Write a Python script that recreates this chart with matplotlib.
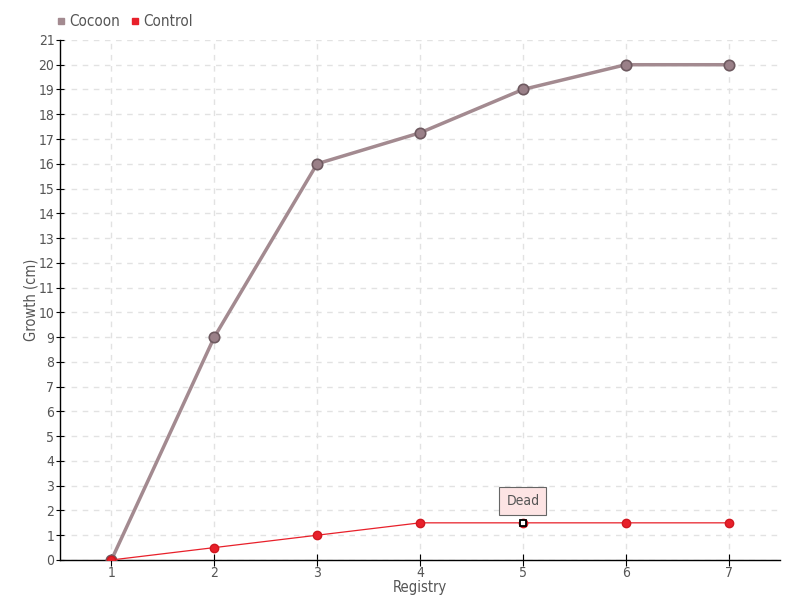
import matplotlib
matplotlib.use("Agg")
import matplotlib.pyplot as plt
from matplotlib.lines import Line2D

# fuente estrecha
plt.rcParams['font.family'] = ['DejaVu Sans']
plt.rcParams['font.stretch'] = 'condensed'

registry = [1, 2, 3, 4, 5, 6, 7]
cocoon = [0, 9, 16, 17.25, 19, 20, 20]
control = [0, 0.5, 1, 1.5, 1.5, 1.5, 1.5]
series_names = ["Cocoon", "Control"]
note_text = "Dead"
note_idx = 4

col_cocoon = "#a38a90"
col_control = "#e8202a"
txt = "#555555"

fig = plt.figure(figsize=(8, 6), dpi=100)
ax = fig.add_axes((0.075, 0.0667, 0.9, 0.8667))

ax.plot(registry, cocoon, color=col_cocoon, lw=2.5, marker='o', ms=7.5,
        mfc="#9a8088", mec="#6e5a60", mew=1.2, zorder=3)
ax.plot(registry, control, color=col_control, lw=0.9, marker='o', ms=6,
        mfc=col_control, mec="#d01820", zorder=4)
# punto marcado
ax.plot([registry[note_idx]], [control[note_idx]], marker='s', ms=4.5,
        mfc='white', mec='black', mew=1.3, ls='none', zorder=5)
ax.annotate(note_text, xy=(registry[note_idx], control[note_idx]),
            xytext=(0, 16), textcoords='offset points', ha='center',
            va='center', fontsize=10, color=txt,
            bbox=dict(boxstyle='square,pad=0.5', fc='#fde4e4',
                      ec='#666666', lw=0.8),
            zorder=6)

ax.set_xlim(0.5, 7.5)
ax.set_ylim(0, 21)
ax.set_xticks(registry)
ax.set_yticks(range(0, 22))
ax.grid(True, color='#e2e2e2', ls=(0, (4, 4)), lw=1)
ax.set_axisbelow(True)
for s in ['top', 'right']:
    ax.spines[s].set_visible(False)
ax.spines['left'].set_linewidth(1)
ax.spines['bottom'].set_linewidth(1)
ax.tick_params(axis='y', direction='inout', length=6, labelsize=10,
               labelcolor=txt, pad=1)
ax.tick_params(axis='x', direction='inout', length=8, labelsize=10,
               labelcolor=txt, pad=0)
ax.set_xlabel("Registry", fontsize=10.5, color=txt, labelpad=0)
ax.set_ylabel("Growth (cm)", fontsize=10.5, color=txt, labelpad=0)

handles = [Line2D([], [], ls='none', marker='s', ms=5, color=col_cocoon),
           Line2D([], [], ls='none', marker='s', ms=5, color=col_control)]
fig.legend(handles, series_names, loc='upper left',
           bbox_to_anchor=(0.052, 0.999), ncol=2, frameon=False,
           fontsize=11, labelcolor=txt, handletextpad=0.1,
           columnspacing=0.6, handlelength=0.8)

fig.savefig("out.png", dpi=100)
